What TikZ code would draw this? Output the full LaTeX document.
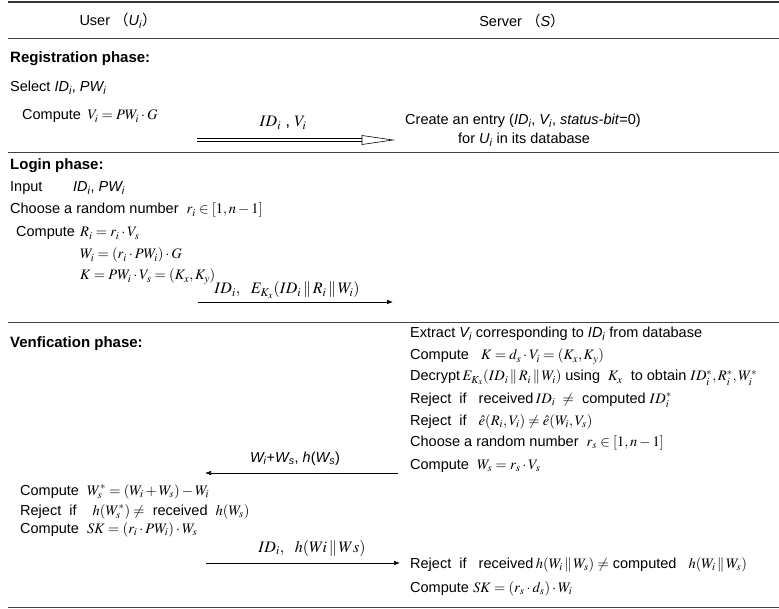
\documentclass[tikz,border=0pt]{standalone}
\usepackage{mathptmx}
\usepackage{fontspec}
\setmainfont{Liberation Sans}
\newfontfamily\cjk{Noto Sans CJK SC}
\usetikzlibrary{arrows.meta}
\newcommand{\sv}[2]{\textit{#1\textsubscript{#2}}}
\begin{document}
\begin{tikzpicture}[x=1pt,y=-1pt,
  txt/.style={anchor=base west, inner sep=0pt, font=\fontsize{14.5}{16}\selectfont},
  phase/.style={anchor=base west, inner sep=0pt, font=\fontsize{15}{17}\selectfont\bfseries},
  lbl/.style={anchor=base, inner sep=0pt, font=\fontsize{14.5}{16}\selectfont},
  mlbl/.style={anchor=base, inner sep=0pt, font=\fontsize{16}{18}\selectfont},
  rule/.style={line width=0.8pt, black!75},
  msg/.style={line width=0.6pt, -{Latex[length=6pt,width=4.5pt]}}]
\useasboundingbox (0,0) rectangle (779,609);
% rules
\draw[line width=1.6pt, black!80] (8,2) -- (779,2);
\draw[rule] (8,38) -- (779,38);
\draw[rule] (8,152) -- (779,152);
\draw[rule] (8,322) -- (779,322);
\draw[rule] (8,607) -- (779,607);
% headers
\node[lbl, anchor=center] (huser) at (118,21) {User {\cjk （}\sv{U}{i}{\cjk ）}};
\node[lbl, anchor=center] (hserv) at (522,21) {Server {\cjk （}\textit{S}{\cjk ）}};
% registration
\node[phase] (regp) at (10,63) {Registration phase:};
\node[txt] (sel) at (10,92) {Select \sv{ID}{i}, \sv{PW}{i}};
\node[txt] (cv) at (22,120) {Compute\ \,$V_i = PW_i \cdot G$};
\node[mlbl] (lreg) at (283,127) {$ID_i$ ,\ $V_i$};
\node[txt] (ce1) at (405,125) {Create an entry (\sv{ID}{i}, \sv{V}{i}, \textit{status-bit}=0)};
\node[txt] (ce2) at (458,144) {for \sv{U}{i} in its database};
\coordinate (ra) at (197,140);
\coordinate (rb) at (362,140);
\coordinate (rc) at (393,140);
\draw[line width=0.6pt] ([yshift=-1.6pt]ra) -- ([yshift=-1.6pt]rb);
\draw[line width=0.6pt] ([yshift=1.6pt]ra) -- ([yshift=1.6pt]rb);
\draw[line width=0.6pt] ([yshift=-4.5pt]rb) -- (rc) -- ([yshift=4.5pt]rb) -- cycle;
% login
\node[phase] (logp) at (10,170) {Login phase:};
\node[txt] (inp) at (10,192) {Input};
\node[txt] (inpv) at (73,192) {\sv{ID}{i}, \sv{PW}{i}};
\node[txt] (chr) at (10,214) {Choose a random number\ \ $r_i \in [1, n-1]$};
\node[txt] (lc) at (16,237) {Compute};
\node[txt] (lr) at (80,237) {$R_i = r_i \cdot V_s$};
\node[txt] (lw) at (80,259) {$W_i = (r_i \cdot PW_i) \cdot G$};
\node[txt] (lk) at (80,280) {$K = PW_i \cdot V_s = (K_x, K_y)$};
\node[mlbl] (llog) at (287,294) {$ID_i,\ \ E_{K_x}(ID_i \,\|\, R_i \,\|\, W_i)$};
\coordinate (la) at (198,302);
\coordinate (lb) at (393,302);
\draw[msg] (la) -- (lb);
% verification
\node[phase] (verp) at (10,348) {Venfication phase:};
\node[txt] (v1) at (410,338) {Extract \sv{V}{i} corresponding to \sv{ID}{i} from database};
\node[txt] (v2) at (410,360) {Compute\ \ \ $K = d_s \cdot V_i = (K_x, K_y)$};
\node[txt] (v3) at (410,381) {Decrypt\,$E_{K_x}(ID_i \,\|\, R_i \,\|\, W_i)$ using\ \ $K_x$\ \ to obtain $ID_i^*, R_i^*, W_i^*$};
\node[txt] (v4) at (410,403) {Reject\ \ if\ \ \ received\,$ID_i\ \neq$\ \ computed $ID_i^*$};
\node[txt] (v5) at (410,425) {Reject\ \ if\ \ \ $\hat{e}(R_i, V_i) \neq \hat{e}(W_i, V_s)$};
\node[txt] (v6) at (410,446) {Choose a random number\ \ $r_s \in [1, n-1]$};
\node[txt] (v7) at (410,469) {Compute\ \ $W_s = r_s \cdot V_s$};
\node[lbl] (lver) at (295,462) {\sv{W}{i}+\sv{W}{s}, \textit{h}(\sv{W}{s})};
\coordinate (va) at (398,473);
\coordinate (vb) at (205,473);
\draw[msg] (va) -- (vb);
\node[txt] (u1) at (20,495) {Compute\ \ $W_s^* = (W_i + W_s) - W_i$};
\node[txt] (u2) at (20,515) {Reject\ \ if\ \ \ \ $h(W_s^*) \neq$\ \ received\ \ $h(W_s)$};
\node[txt] (u3) at (20,533) {Compute\ \ $SK = (r_i \cdot PW_i) \cdot W_s$};
\node[mlbl] (lfin) at (312,552) {$ID_i,\ \ h(Wi \,\|\, Ws)$};
\coordinate (fa) at (206,563);
\coordinate (fb) at (400,563);
\draw[msg] (fa) -- (fb);
\node[txt] (s1) at (410,568) {Reject\ \ if\ \ \ received\,$h(W_i \,\|\, W_s) \neq$\ computed\ \ \ $h(W_i \,\|\, W_s)$};
\node[txt] (s2) at (410,592) {Compute $SK = (r_s \cdot d_s) \cdot W_i$};
\end{tikzpicture}
\end{document}
